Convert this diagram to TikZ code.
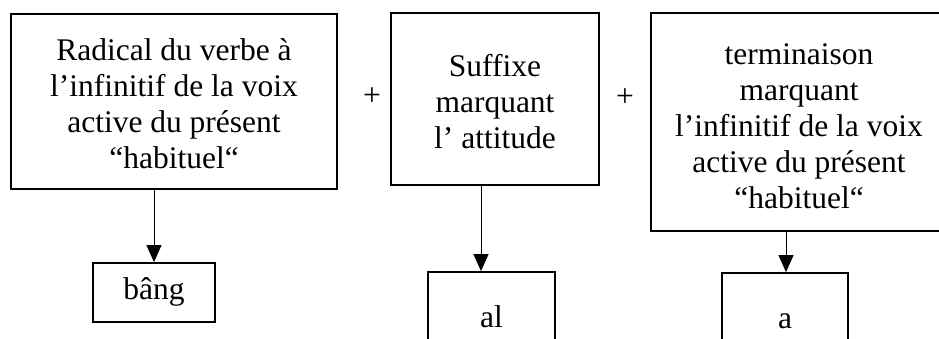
\documentclass[tikz,border=0pt]{standalone}
\usepackage{fontspec}
\setmainfont{Liberation Serif}[Ligatures=CommonOff]
\usetikzlibrary{arrows.meta}
\begin{document}
\begin{tikzpicture}[x=1pt,y=-1pt,
  every node/.style={font=\fontsize{31.5}{36}\selectfont},
  bigbox/.style={draw,line width=1.8pt,inner sep=0pt},
  boxtext/.style={align=center,inner sep=0pt},
  smallbox/.style={draw,line width=1.8pt,inner sep=0pt,text height=22pt,text depth=8pt},
  conn/.style={line width=1pt,-{Triangle[length=17pt,width=15pt]}}]
\clip (0,0) rectangle (939,338);
\fill[white] (0,0) rectangle (939,338);
% upper boxes
\node[bigbox,minimum width=326pt,minimum height=175pt] (b1) at (174,101.5) {};
\node[boxtext] (t1) at ([yshift=-2pt]b1.center)
  {Radical du verbe à\\l’infinitif de la voix\\active du présent\\“habituel“};
\node[bigbox,minimum width=208pt,minimum height=172pt] (b2) at (495,99) {};
\node[boxtext] (t2) at ([yshift=-3pt]b2.center)
  {Suffixe\\marquant\\l’ attitude};
\node[bigbox,minimum width=296pt,minimum height=218pt] (b3) at (799,122) {};
\node[boxtext] (t3) at ([yshift=-4pt]b3.center)
  {terminaison\\marquant\\l’infinitif de la voix\\active du présent\\“habituel“};
% plus signs
\node (p1) at (372,97) {+};
\node (p2) at (625,98) {+};
% lower boxes
\node[smallbox,minimum width=122pt,minimum height=59pt] (s1) at (154,292.5) {bâng};
\node[smallbox,minimum width=127pt,minimum height=96pt] (s2) at (491.5,320) {al};
\node[smallbox,minimum width=126pt,minimum height=96pt] (s3) at (785,321) {a};
% connectors
\coordinate (x1) at (154,0);
\coordinate (x2) at (481,0);
\coordinate (x3) at (786,0);
\draw[conn] (x1 |- b1.south) -- (x1 |- s1.north);
\draw[conn] (x2 |- b2.south) -- (x2 |- s2.north);
\draw[conn] (x3 |- b3.south) -- (x3 |- s3.north);
\end{tikzpicture}
\end{document}
